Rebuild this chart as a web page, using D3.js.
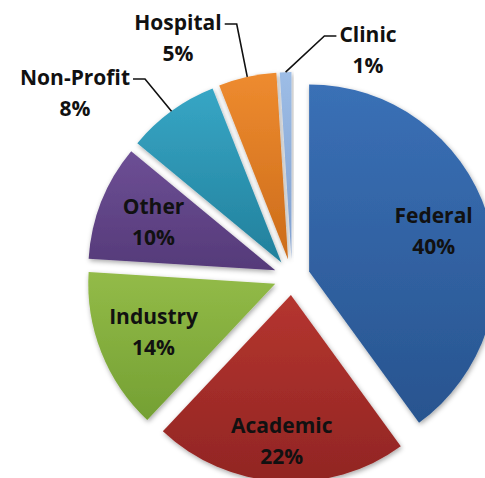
<!DOCTYPE html>
<html>
<head>
<meta charset="utf-8">
<script src="https://cdnjs.cloudflare.com/ajax/libs/d3/7.8.5/d3.min.js"></script>
<style>
  html, body { margin: 0; padding: 0; background: #fff; }
  svg text { font-family: "Open Sans", "Liberation Sans", sans-serif; font-weight: bold; }
</style>
</head>
<body>
<script>
(() => {

    // data
    var categories = ["Federal", "Academic", "Industry", "Other", "Non-Profit", "Hospital", "Clinic"];
    var values = [40, 22, 14, 10, 8, 5, 1];
    var colorsTop = ["#3a70b6", "#b5352f", "#93bb48", "#6d4f95", "#37a6c5", "#ee8b2f", "#9dbde6"];
    var colorsBottom = ["#28548f", "#912523", "#74a033", "#553a79", "#22809c", "#cc6c1a", "#7f9fcf"];

    // labels outside the pie, offset of first baseline from the pie centre
    var callouts = {
        "Non-Profit": [-217, -192],
        "Hospital": [-114, -247],
        "Clinic": [76, -235]
    };
    var labelRadius = { "Academic": 0.78 };

    var w = 485,
        h = 478;

    var cx = 292,
        cy = 277,
        R = 187,
        explode = 18,
        lineGap = 31;

    var svg = d3.select("body").append("svg")
        .attr("width", w).attr("height", h);

    var defs = svg.append("defs");

    var shadow = defs.append("filter").attr("id", "shadow")
        .attr("x", "-20%").attr("y", "-20%").attr("width", "140%").attr("height", "140%");
    shadow.append("feDropShadow")
        .attr("dx", 1).attr("dy", 2).attr("stdDeviation", 2.5)
        .attr("flood-color", "#000").attr("flood-opacity", 0.35);

    categories.forEach((c, i) => {
        var g = defs.append("linearGradient").attr("id", "grad" + i)
            .attr("x1", 0).attr("y1", 0).attr("x2", 0).attr("y2", 1);
        g.append("stop").attr("offset", "0%").attr("stop-color", colorsTop[i]);
        g.append("stop").attr("offset", "100%").attr("stop-color", colorsBottom[i]);
    });

    var pie = d3.pie().sort(null).value(d => d.value);
    var data = pie(categories.map((c, i) => ({ name: c, value: values[i], idx: i })));

    var arc = d3.arc().innerRadius(0).outerRadius(R);

    function mid(d) { return (d.startAngle + d.endAngle) / 2; }
    function polar(a, r) { return [Math.sin(a) * r, -Math.cos(a) * r]; }

    var graph = svg.append("g").attr("transform", "translate(" + [cx, cy] + ")");

    var slices = graph.selectAll(".slice").data(data).enter()
        .append("g").attr("class", "slice")
        .attr("transform", d => "translate(" + polar(mid(d), explode) + ")");

    slices.append("path")
        .attr("d", arc)
        .attr("fill", d => "url(#grad" + d.data.idx + ")")
        .attr("filter", "url(#shadow)");

    // inside labels
    data.filter(d => !callouts[d.data.name]).forEach(d => {
        var o = polar(mid(d), explode);
        var p = polar(mid(d), R * (labelRadius[d.data.name] || 0.7));
        var x = o[0] + p[0],
            b1 = o[1] + p[1] - 8;
        var t = graph.append("text").attr("text-anchor", "middle").attr("font-size", 21).attr("fill", "#111");
        t.append("tspan").attr("x", x).attr("y", b1).text(d.data.name);
        t.append("tspan").attr("x", x).attr("y", b1 + lineGap).text(d.data.value + "%");
    });

    // outside labels with leader lines
    data.filter(d => callouts[d.data.name]).forEach(d => {
        var pos = callouts[d.data.name];
        var t = graph.append("text").attr("text-anchor", "middle").attr("font-size", 21).attr("fill", "#111");
        var t1 = t.append("tspan").attr("x", pos[0]).attr("y", pos[1]).text(d.data.name);
        t.append("tspan").attr("x", pos[0]).attr("y", pos[1] + lineGap).text(d.data.value + "%");

        var half = t1.node().getComputedTextLength() / 2;
        var o = polar(mid(d), explode);
        var e = polar(mid(d), R);
        var end = [o[0] + e[0], o[1] + e[1]];
        var side = end[0] > pos[0] ? 1 : -1;
        var start = [pos[0] + side * (half + 3), pos[1] - 6];
        var elbow = [start[0] + side * 12, start[1]];

        graph.append("path")
            .attr("d", d3.line()([start, elbow, end]))
            .attr("fill", "none")
            .attr("stroke", "#111")
            .attr("stroke-width", 1.6);
    });

})()
</script>
</body>
</html>
